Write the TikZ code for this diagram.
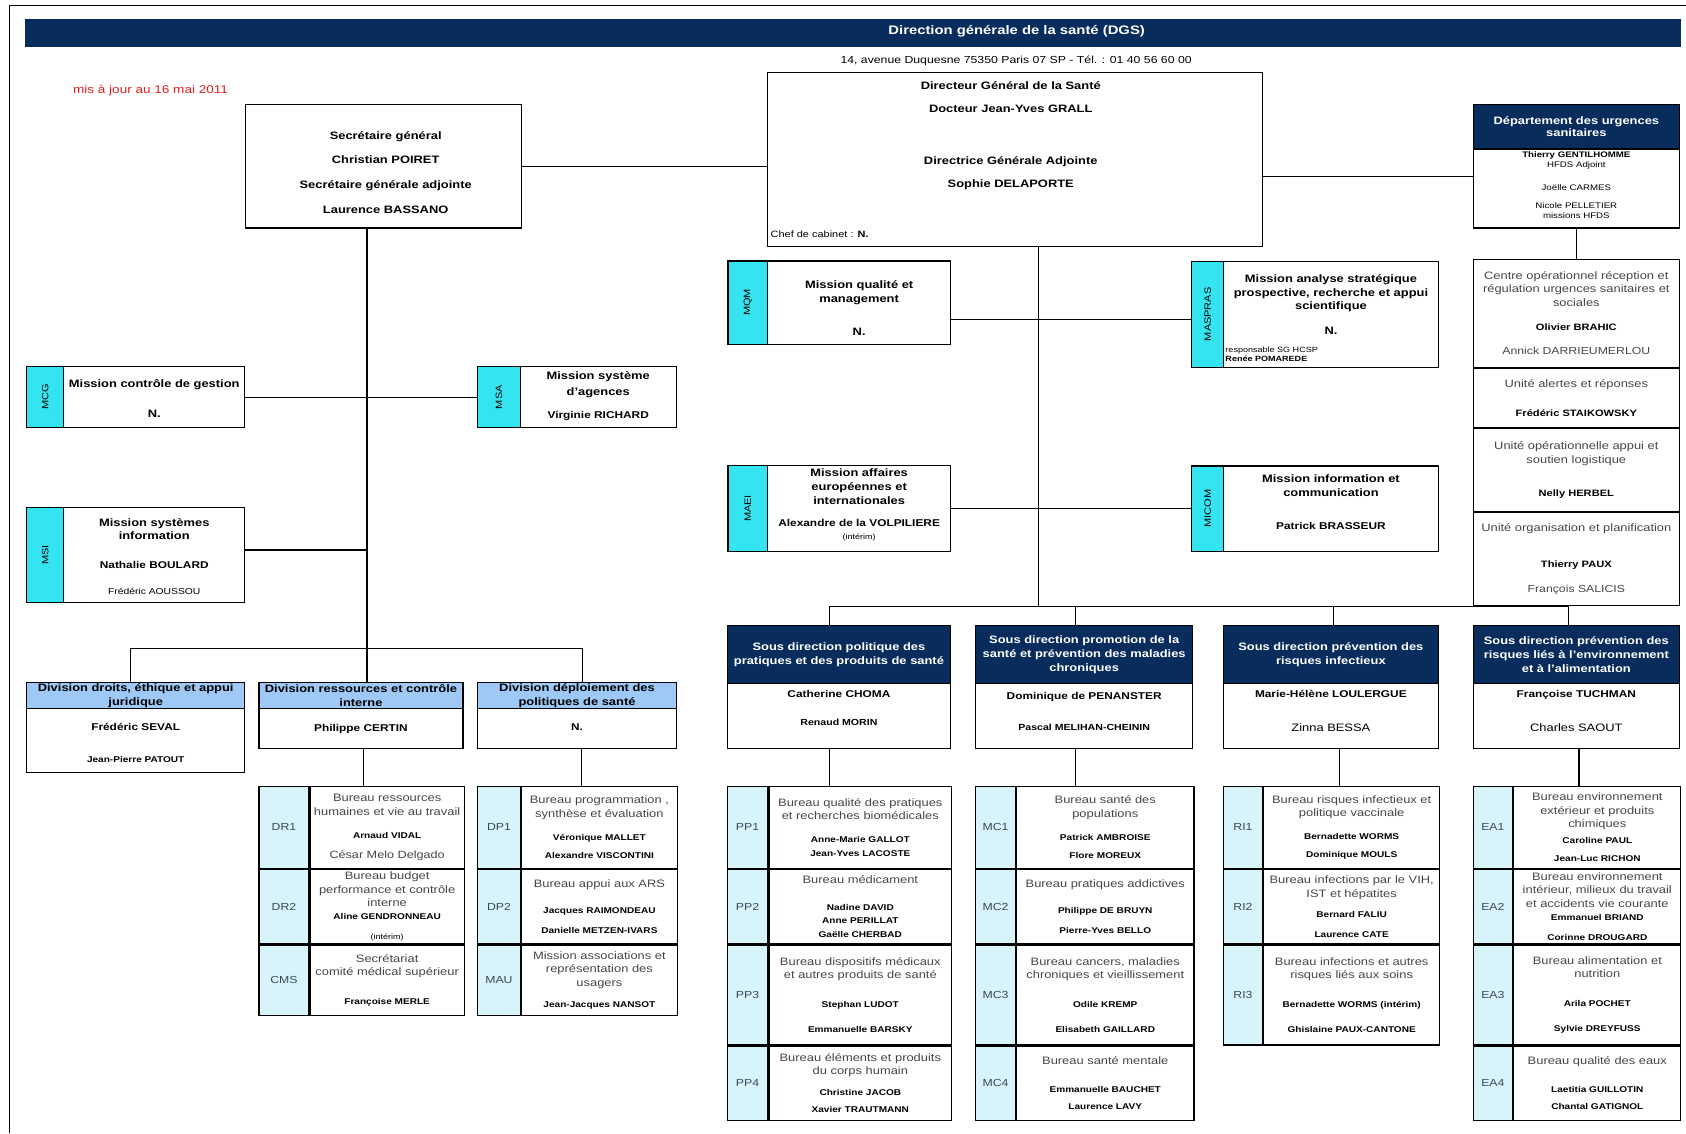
\documentclass[tikz,border=0pt]{standalone}
\usepackage{fontspec}
\setmainfont{Liberation Sans}[FakeStretch=1.2]
\usepackage{graphicx}

\definecolor{navy}{RGB}{8,44,92}
\definecolor{tabcyan}{RGB}{52,228,240}
\definecolor{codecyan}{RGB}{214,244,250}
\definecolor{divblue}{RGB}{158,200,245}
\definecolor{majred}{RGB}{228,30,30}
\definecolor{codegray}{RGB}{60,72,92}
\definecolor{bureaugray}{RGB}{70,70,70}

\newcommand{\ftitle}{\fontsize{10}{13}\selectfont\bfseries}
\newcommand{\fname}{\fontsize{7.8}{12.4}\selectfont\bfseries\color{black}}
\newcommand{\fnamemid}{\fontsize{8.2}{13}\selectfont\bfseries\color{black}}
\newcommand{\fnamebig}{\fontsize{9.2}{13}\selectfont\bfseries\color{black}}
\newcommand{\fsmall}{\fontsize{7}{9}\selectfont\mdseries}
\newcommand{\fplain}{\fontsize{10}{13}\selectfont\mdseries}

\begin{document}
\begin{tikzpicture}[x=1pt, y=-1pt,
  box/.style={draw, line width=1.1pt, inner sep=0pt},
  tab/.style={box, fill=tabcyan, font=\fontsize{8.5}{10}\selectfont},
  code/.style={box, fill=codecyan, text=codegray, font=\fontsize{9.5}{11}\selectfont},
  cell/.style={box, align=center, text=bureaugray, font=\fontsize{10}{12.4}\selectfont},
  head/.style={box, fill=navy, text=white, align=center, font=\ftitle},
  subhead/.style={box, fill=divblue, align=center, font=\ftitle},
  txt/.style={inner sep=0pt, align=center, font=\ftitle},
  link/.style={line width=1pt},
  row1/.style={minimum height=75.9pt},
  row2/.style={minimum height=69.2pt},
  row3/.style={minimum height=93pt},
  row4/.style={minimum height=68.8pt},
  row3s/.style={minimum height=65.7pt}]
  \useasboundingbox (0,0) rectangle (1568,1054);
  \draw[line width=1.5pt] (9,1054) -- (9,5) -- (1568,5);

  % bandeau
  \node[head, draw=navy, minimum width=1539pt, minimum height=24.8pt] (dgs) at (793.1,30.4) {};
  \node[txt, text=white, font=\fontsize{11.5}{13}\selectfont\bfseries] (dgs-t) at (945.5,29.5) {Direction générale de la santé (DGS)};
  \node[txt, font=\fontsize{9.5}{12}\selectfont] (adresse) at (945,56.5) {14, avenue Duquesne 75350 Paris 07 SP - Tél. : 01 40 56 60 00};
  \node[txt, text=majred, font=\fontsize{10.5}{12}\selectfont] (maj) at (140,84) {mis à jour au 16 mai 2011};

  % direction
  \node[box, minimum width=460pt, minimum height=161.4pt] (dg) at (944,148.3) {};
  \node[txt, font=\fontsize{10}{21.5}\selectfont\bfseries] (dg-t1) at (940,90.5) {Directeur Général de la Santé\\Docteur Jean-Yves GRALL};
  \node[txt, font=\fontsize{10}{22}\selectfont\bfseries] (dg-t2) at (940,161) {Directrice Générale Adjointe\\Sophie DELAPORTE};
  \node[txt, anchor=west, font=\fontsize{8.5}{10}\selectfont] (cabinet) at (716.5,218) {Chef de cabinet : \textbf{N.}};

  \node[box, minimum width=257pt, minimum height=115pt] (sg) at (356.5,154.5) {};
  \node[txt, font=\fontsize{10}{23.2}\selectfont\bfseries] (sg-t) at (358.7,160.5) {Secrétaire général\\Christian POIRET\\Secrétaire générale adjointe\\Laurence BASSANO};
  \draw[link] (sg.east) -- (sg.east -| dg.west);

  \node[box, minimum width=192pt, minimum height=115pt] (dus) at (1466,154.5) {};
  \node[head, minimum width=192pt, minimum height=41.6pt, font=\fontsize{10}{11.5}\selectfont\bfseries] (dus-h) at (1466,117.8) {Département des urgences\\sanitaires};
  \node[txt, font=\fontsize{7.5}{9.6}\selectfont] (dus-t) at (1466,172) {\textbf{Thierry GENTILHOMME}\\HFDS Adjoint\\[11.9pt]Joëlle CARMES\\[6.9pt]Nicole PELLETIER\\missions HFDS};
  \draw[link] ([yshift=-9.5pt]dus.west) -- ([yshift=-9.5pt]dus.west -| dg.east);

  \node[cell, minimum width=192pt, minimum height=100.6pt] (urg1) at (1466,291.3) {Centre opérationnel réception et\\régulation urgences sanitaires et\\sociales\\[10pt]{\fontsize{8.6}{12}\selectfont\bfseries\color{black}Olivier BRAHIC}\\[10.6pt]{\fontsize{9.5}{12}\selectfont Annick DARRIEUMERLOU}};
  \node[cell, minimum width=192pt, minimum height=54.9pt, anchor=north] (urg2) at (urg1.south) {Unité alertes et réponses\\[14.6pt]{\fontsize{8.6}{12}\selectfont\bfseries\color{black}Frédéric STAIKOWSKY}};
  \node[cell, minimum width=192pt, minimum height=77pt, anchor=north] (urg3) at (urg2.south) {Unité opérationnelle appui et\\soutien logistique\\[18.6pt]{\fontsize{8.6}{12}\selectfont\bfseries\color{black}Nelly HERBEL}};
  \node[cell, minimum width=192pt, minimum height=86.5pt, anchor=north] (urg4) at (urg3.south) {Unité organisation et planification\\[21pt]{\fontsize{8.6}{12}\selectfont\bfseries\color{black}Thierry PAUX}\\[11.5pt]{\fontsize{9.5}{12}\selectfont François SALICIS}};
  \draw[link] (dus.south) -- (urg1.north);

  % missions
  \node[box, minimum width=207pt, minimum height=77.3pt] (mqm) at (780.5,281.4) {};
  \node[tab, minimum width=37pt, minimum height=77.3pt, anchor=west] (mqm-tab) at (mqm.west) {\rotatebox{90}{MQM}};
  \node[txt] (mqm-t) at (799,286.3) {Mission qualité et\\management\\[18pt]N.};

  \node[box, minimum width=229.2pt, minimum height=98.6pt] (maspras) at (1223,292.3) {};
  \node[tab, minimum width=29.6pt, minimum height=98.6pt, anchor=west] (maspras-tab) at (maspras.west) {\rotatebox{90}{MASPRAS}};
  \node[txt, font=\fontsize{10}{12.4}\selectfont\bfseries] (maspras-t) at (1237.8,283.6) {Mission analyse stratégique\\prospective, recherche et appui\\scientifique\\[11pt]N.};
  \node[txt, anchor=west, align=left, font=\fontsize{7}{8.4}\selectfont] (hcsp) at (1139.5,329.7) {responsable SG HCSP\\\textbf{Renée POMAREDE}};
  \draw[link] ([yshift=-15.6pt]mqm.east) -- ([yshift=-15.6pt]mqm.east -| maspras.west);

  \node[box, minimum width=207pt, minimum height=80.5pt] (maei) at (780.5,472.8) {};
  \node[tab, minimum width=37pt, minimum height=80.5pt, anchor=west] (maei-tab) at (maei.west) {\rotatebox{90}{MAEI}};
  \node[txt] (maei-t) at (799,469.3) {Mission affaires\\européennes et\\internationales\\[7.2pt]{\fnamebig Alexandre de la VOLPILIERE}\\[-1pt]{\fsmall (intérim)}};

  \node[box, minimum width=229.2pt, minimum height=79.1pt] (micom) at (1223,473) {};
  \node[tab, minimum width=29.6pt, minimum height=79.1pt, anchor=west] (micom-tab) at (micom.west) {\rotatebox{90}{MICOM}};
  \node[txt] (micom-t) at (1237.8,467.2) {Mission information et\\communication\\[17.7pt]{\fnamebig Patrick BRASSEUR}};
  \draw[link] (maei.east) -- (maei.east -| micom.west);

  \node[box, minimum width=202.6pt, minimum height=56.7pt] (mcg) at (126.2,369.35) {};
  \node[tab, minimum width=34.5pt, minimum height=56.7pt, anchor=west] (mcg-tab) at (mcg.west) {\rotatebox{90}{MCG}};
  \node[txt] (mcg-t) at (143.45,371) {Mission contrôle de gestion\\[15pt]N.};

  \node[box, minimum width=184.7pt, minimum height=56.7pt] (msa) at (536.65,369.35) {};
  \node[tab, minimum width=39.4pt, minimum height=56.7pt, anchor=west] (msa-tab) at (msa.west) {\rotatebox{90}{MSA}};
  \node[txt] (msa-t) at (556.35,368.2) {Mission système\\[2pt]d'agences\\[7.8pt]{\fnamebig Virginie RICHARD}};
  \draw[link] (mcg.east) -- (msa.west);

  \node[box, minimum width=202.6pt, minimum height=88.2pt] (msi) at (126.2,515.9) {};
  \node[tab, minimum width=34.5pt, minimum height=88.2pt, anchor=west] (msi-tab) at (msi.west) {\rotatebox{90}{MSI}};
  \node[txt] (msi-t) at (143.45,517.5) {Mission systèmes\\[-0.6pt]information\\[14.3pt]{\fnamebig Nathalie BOULARD}\\[10.8pt]{\fontsize{8}{13}\selectfont\mdseries Frédéric AOUSSOU}};

  % divisions du secretariat general
  \node[box, minimum width=202.6pt, minimum height=83.7pt] (div1) at (126.2,676.75) {};
  \node[subhead, minimum width=202.6pt, minimum height=23.8pt, anchor=north, font=\fontsize{10}{12.5}\selectfont\bfseries] (div1-h) at (div1.north) {Division droits, éthique et appui\\juridique};
  \node[txt] (div1-t) at (126.2,691.3) {{\fnamebig Frédéric SEVAL}\\[16.8pt]{\fname Jean-Pierre PATOUT}};

  \node[box, minimum width=189.8pt, minimum height=61.1pt] (div2) at (335.7,665.45) {};
  \node[subhead, minimum width=189.8pt, minimum height=23.8pt, anchor=north, font=\fontsize{10}{12.5}\selectfont\bfseries] (div2-h) at (div2.north) {Division ressources et contrôle\\interne};
  \node[txt, font=\fnamebig] (div2-t) at (335.7,677.7) {Philippe CERTIN};

  \node[box, minimum width=184.7pt, minimum height=61.1pt] (div3) at (536.65,665.45) {};
  \node[subhead, minimum width=184.7pt, minimum height=23.8pt, anchor=north, font=\fontsize{10}{12.5}\selectfont\bfseries] (div3-h) at (div3.north) {Division déploiement des\\politiques de santé};
  \node[txt, font=\fnamebig] (div3-t) at (536.65,676.4) {N.};

  \coordinate (sgpied) at ([xshift=-15.2pt]sg.south);
  \coordinate (divbus) at (341.3,603);
  \draw[link] (sgpied) -- (sgpied |- div2.north);
  \draw[link] ([yshift=4.4pt]msi.east) -- ([yshift=4.4pt]msi.east -| sgpied);
  \draw[link] ([xshift=-5pt]div1.north) |- (divbus) -| ([xshift=5.15pt]div3.north);

  \node[code, row1, minimum width=46.5pt] (dr1) at (264.05,769.55) {DR1};
  \node[cell, row1, minimum width=143.3pt, anchor=west] (dr1-t) at (dr1.east) {Bureau ressources\\humaines et vie au travail\\[9pt]{\fname Arnaud VIDAL}\\[6.2pt]{\fontsize{9.8}{12.4}\selectfont César Melo Delgado}};
  \node[code, row2, minimum width=46.5pt, anchor=north] (dr2) at (dr1.south) {DR2};
  \node[cell, row2, minimum width=143.3pt, anchor=west] (dr2-t) at (dr2.east) {Bureau budget\\performance et contrôle\\interne\\{\fname Aline GENDRONNEAU}\\[6.2pt]{\fsmall\color{black}(intérim)}};
  \node[code, row3s, minimum width=46.5pt, anchor=north] (cms) at (dr2.south) {CMS};
  \node[cell, row3s, minimum width=143.3pt, anchor=west] (cms-t) at (cms.east) {Secrétariat\\comité médical supérieur\\[14.3pt]{\fname Françoise MERLE}};
  \draw[link] ([xshift=2.6pt]div2.south) -- ([xshift=2.6pt]div2.south |- dr1.north);

  \node[code, row1, minimum width=39.4pt] (dp1) at (464,769.55) {DP1};
  \node[cell, row1, minimum width=145.3pt, anchor=west] (dp1-t) at (dp1.east) {Bureau programmation ,\\synthèse et évaluation\\[9pt]{\fname Véronique MALLET}\\[4.9pt]{\fname Alexandre VISCONTINI}};
  \node[code, row2, minimum width=39.4pt, anchor=north] (dp2) at (dp1.south) {DP2};
  \node[cell, row2, minimum width=145.3pt, anchor=west] (dp2-t) at (dp2.east) {Bureau appui aux ARS\\[12.4pt]{\fname Jacques RAIMONDEAU}\\[6.2pt]{\fname Danielle METZEN-IVARS}};
  \node[code, row3s, minimum width=39.4pt, anchor=north] (mau) at (dp2.south) {MAU};
  \node[cell, row3s, minimum width=145.3pt, anchor=west] (mau-t) at (mau.east) {Mission associations et\\représentation des\\usagers\\[7.1pt]{\fname Jean-Jacques NANSOT}};
  \draw[link] ([xshift=4pt]div3.south) -- ([xshift=4pt]div3.south |- dp1.north);

  % sous-directions
  \node[box, minimum width=207.6pt, minimum height=114pt] (sd1) at (780.2,639) {};
  \node[head, minimum width=207.6pt, minimum height=53.5pt, anchor=north] (sd1-h) at (sd1.north) {Sous direction politique des\\pratiques et des produits de santé};
  \node[txt] (sd1-t) at (780.2,658.2) {{\fnamebig Catherine CHOMA}\\[12.6pt]{\fnamemid Renaud MORIN}};

  \node[box, minimum width=201.9pt, minimum height=114pt] (sd2) at (1008.3,639) {};
  \node[head, minimum width=201.9pt, minimum height=53.5pt, anchor=north] (sd2-h) at (sd2.north) {Sous direction promotion de la\\santé et prévention des maladies\\chroniques};
  \node[txt] (sd2-t) at (1008.3,661.9) {{\fnamebig Dominique de PENANSTER}\\[16.1pt]{\fnamemid Pascal MELIHAN-CHEININ}};

  \node[box, minimum width=199.9pt, minimum height=114pt] (sd3) at (1237.7,639) {};
  \node[head, minimum width=199.9pt, minimum height=53.5pt, anchor=north] (sd3-h) at (sd3.north) {Sous direction prévention des\\risques infectieux};
  \node[txt] (sd3-t) at (1237.7,661.4) {{\fnamebig Marie-Hélène LOULERGUE}\\[19pt]{\fplain Zinna BESSA}};

  \node[box, minimum width=192pt, minimum height=114pt] (sd4) at (1466,639) {};
  \node[head, minimum width=192pt, minimum height=53.5pt, anchor=north] (sd4-h) at (sd4.north) {Sous direction prévention des\\risques liés à l'environnement\\et à l'alimentation};
  \node[txt] (sd4-t) at (1466,661.4) {{\fnamebig Françoise TUCHMAN}\\[19pt]{\fplain Charles SAOUT}};

  \coordinate (sdbus) at (966,564);
  \draw[link] ([xshift=22pt]dg.south) -- (sdbus);
  \draw[link] ([xshift=-9pt]sd1.north) |- (sdbus) -| ([xshift=-7pt]sd4.north);
  \draw[link] ([xshift=-8.5pt]sd2.north) -- ([xshift=-8.5pt]sd2.north |- sdbus);
  \draw[link] ([xshift=2.3pt]sd3.north) -- ([xshift=2.3pt]sd3.north |- sdbus);

  % bureaux
  \node[code, row1, minimum width=37.6pt] (pp1) at (695.2,769.55) {PP1};
  \node[cell, row1, minimum width=170pt, anchor=west] (pp1-t) at (pp1.east) {Bureau qualité des pratiques\\et recherches biomédicales\\[9pt]{\fname Anne-Marie GALLOT}\\{\fname Jean-Yves LACOSTE}};
  \node[code, row2, minimum width=37.6pt, anchor=north] (pp2) at (pp1.south) {PP2};
  \node[cell, row2, minimum width=170pt, anchor=west] (pp2-t) at (pp2.east) {Bureau médicament\\[12.4pt]{\fname Nadine DAVID}\\{\fname Anne PERILLAT}\\{\fname Gaëlle CHERBAD}};
  \node[code, row3, minimum width=37.6pt, anchor=north] (pp3) at (pp2.south) {PP3};
  \node[cell, row3, minimum width=170pt, anchor=west] (pp3-t) at (pp3.east) {Bureau dispositifs médicaux\\et autres produits de santé\\[14.3pt]{\fname Stephan LUDOT}\\[11.4pt]{\fname Emmanuelle BARSKY}};
  \node[code, row4, minimum width=37.6pt, anchor=north] (pp4) at (pp3.south) {PP4};
  \node[cell, row4, minimum width=170pt, anchor=west] (pp4-t) at (pp4.east) {Bureau éléments et produits\\du corps humain\\[7.4pt]{\fname Christine JACOB}\\[3.4pt]{\fname Xavier TRAUTMANN}};
  \draw[link] ([xshift=-9pt]sd1.south) -- ([xshift=-9pt]sd1.south |- pp1.north);

  \node[code, row1, minimum width=36.9pt] (mc1) at (925.85,769.55) {MC1};
  \node[cell, row1, minimum width=165pt, anchor=west] (mc1-t) at (mc1.east) {Bureau santé des\\populations\\[9pt]{\fname Patrick AMBROISE}\\[4.9pt]{\fname Flore MOREUX}};
  \node[code, row2, minimum width=36.9pt, anchor=north] (mc2) at (mc1.south) {MC2};
  \node[cell, row2, minimum width=165pt, anchor=west] (mc2-t) at (mc2.east) {Bureau pratiques addictives\\[12.4pt]{\fname Philippe DE BRUYN}\\[6.2pt]{\fname Pierre-Yves BELLO}};
  \node[code, row3, minimum width=36.9pt, anchor=north] (mc3) at (mc2.south) {MC3};
  \node[cell, row3, minimum width=165pt, anchor=west] (mc3-t) at (mc3.east) {Bureau cancers, maladies\\chroniques et vieillissement\\[14.3pt]{\fname Odile KREMP}\\[11.4pt]{\fname Elisabeth GAILLARD}};
  \node[code, row4, minimum width=36.9pt, anchor=north] (mc4) at (mc3.south) {MC4};
  \node[cell, row4, minimum width=165pt, anchor=west] (mc4-t) at (mc4.east) {Bureau santé mentale\\[13.6pt]{\fname Emmanuelle BAUCHET}\\[3.4pt]{\fname Laurence LAVY}};
  \draw[link] ([xshift=-8.5pt]sd2.south) -- ([xshift=-8.5pt]sd2.south |- mc1.north);

  \node[code, row1, minimum width=36.6pt] (ri1) at (1156,769.55) {RI1};
  \node[cell, row1, minimum width=163.3pt, anchor=west] (ri1-t) at (ri1.east) {Bureau risques infectieux et\\politique vaccinale\\[9pt]{\fname Bernadette WORMS}\\[4.9pt]{\fname Dominique MOULS}};
  \node[code, row2, minimum width=36.6pt, anchor=north] (ri2) at (ri1.south) {RI2};
  \node[cell, row2, minimum width=163.3pt, anchor=west] (ri2-t) at (ri2.east) {Bureau infections par le VIH,\\IST et hépatites\\[6.2pt]{\fname Bernard FALIU}\\[6.2pt]{\fname Laurence CATE}};
  \node[code, row3, minimum width=36.6pt, anchor=north] (ri3) at (ri2.south) {RI3};
  \node[cell, row3, minimum width=163.3pt, anchor=west] (ri3-t) at (ri3.east) {Bureau infections et autres\\risques liés aux soins\\[14.3pt]{\fname Bernadette WORMS (intérim)}\\[11.4pt]{\fname Ghislaine PAUX-CANTONE}};
  \draw[link] ([xshift=8.3pt]sd3.south) -- ([xshift=8.3pt]sd3.south |- ri1.north);

  \node[code, row1, minimum width=36.8pt] (ea1) at (1388.4,769.55) {EA1};
  \node[cell, row1, minimum width=155.2pt, anchor=west] (ea1-t) at (ea1.east) {Bureau environnement\\extérieur et produits\\chimiques\\[2.1pt]{\fname Caroline PAUL}\\[4.9pt]{\fname Jean-Luc RICHON}};
  \node[code, row2, minimum width=36.8pt, anchor=north] (ea2) at (ea1.south) {EA2};
  \node[cell, row2, minimum width=155.2pt, anchor=west] (ea2-t) at (ea2.east) {Bureau environnement\\intérieur, milieux du travail\\et accidents vie courante\\{\fname Emmanuel BRIAND}\\[6.2pt]{\fname Corinne DROUGARD}};
  \node[code, row3, minimum width=36.8pt, anchor=north] (ea3) at (ea2.south) {EA3};
  \node[cell, row3, minimum width=155.2pt, anchor=west] (ea3-t) at (ea3.east) {Bureau alimentation et\\nutrition\\[14.3pt]{\fname Arila POCHET}\\[11.4pt]{\fname Sylvie DREYFUSS}};
  \node[code, row4, minimum width=36.8pt, anchor=north] (ea4) at (ea3.south) {EA4};
  \node[cell, row4, minimum width=155.2pt, anchor=west] (ea4-t) at (ea4.east) {Bureau qualité des eaux\\[13.6pt]{\fname Laetitia GUILLOTIN}\\[3.4pt]{\fname Chantal GATIGNOL}};
  \draw[link] ([xshift=2.5pt]sd4.south) -- ([xshift=2.5pt]sd4.south |- ea1.north);
\end{tikzpicture}
\end{document}
